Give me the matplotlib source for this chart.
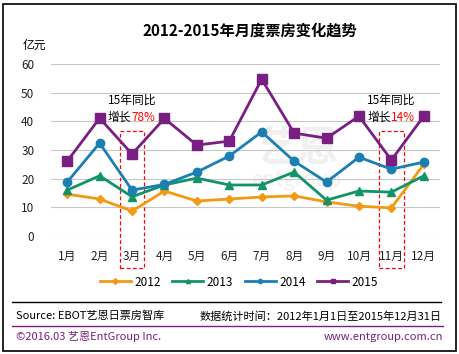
import matplotlib
matplotlib.use('Agg')
import matplotlib.pyplot as plt
from matplotlib.patches import Rectangle
from matplotlib.lines import Line2D

plt.rcParams['font.family'] = ['Noto Sans CJK SC', 'DejaVu Sans']

months = ['1月', '2月', '3月', '4月', '5月', '6月', '7月', '8月', '9月', '10月', '11月', '12月']
v2012 = [14.6, 12.9, 8.7, 15.7, 12.2, 12.9, 13.6, 14.0, 11.9, 10.4, 9.8, 25.0]
v2013 = [16.0, 21.0, 13.7, 17.8, 20.2, 17.8, 17.8, 22.3, 12.5, 15.7, 15.3, 21.0]
v2014 = [18.8, 32.4, 16.0, 18.0, 22.3, 27.9, 36.3, 26.1, 18.8, 27.5, 23.3, 25.8]
v2015 = [26.1, 41.1, 28.6, 41.0, 31.7, 33.1, 54.7, 35.9, 34.1, 41.8, 26.5, 41.8]
yticks = [0, 10, 20, 30, 40, 50, 60]

W, H = 459, 354
fig = plt.figure(figsize=(W / 100, H / 100), dpi=100)

def fx(px):
    return px / W

def fy(py):
    return 1 - py / H

# outer frame
fig.patches.append(Rectangle((fx(3), fy(351)), fx(453), 347 / H, transform=fig.transFigure,
                             fill=False, edgecolor='black', linewidth=1.2))

ax = fig.add_axes([fx(51), fy(236), fx(389), 172 / H])
x = list(range(1, 13))
series = [
    ('2012', v2012, '#F29A12', 'D', 4),
    ('2013', v2013, '#139468', '^', 6),
    ('2014', v2014, '#1B7FB3', 'o', 6),
    ('2015', v2015, '#7A1F82', 's', 6.5),
]
for name, vals, col, mk, ms in series:
    ax.plot(x, vals, color=col, marker=mk, markersize=ms, linewidth=2, label=name)

ax.set_xlim(0.5, 12.5)
ax.set_ylim(0, 60)
ax.set_yticks(yticks)
ax.set_xticks(x)
ax.set_xticklabels(months)
ax.tick_params(axis='both', length=0, labelsize=8.5, colors='#222222')
ax.tick_params(axis='x', pad=10)
ax.tick_params(axis='y', pad=12)
ax.grid(axis='y', color='#c8c8c8', linewidth=0.8)
ax.set_axisbelow(True)
for s in ax.spines.values():
    s.set_visible(False)

# watermark
ax.text(8.1, 30.5, '艺恩', fontsize=30, color='#999999', alpha=0.14, ha='center', va='center',
        fontweight='bold', zorder=0)
ax.text(8.1, 19.5, 'entgroup', fontsize=15, color='#999999', alpha=0.14, ha='center', va='center',
        zorder=0)

# highlight boxes and notes
for m, pct in [(3, '78%'), (11, '14%')]:
    ax.add_patch(Rectangle((m - 0.38, -11.2), 0.76, 47.8, fill=False, edgecolor='red',
                           linestyle=(0, (3, 2)), linewidth=0.9, clip_on=False))
    ax.text(m, 47.5, '15年同比', fontsize=8.5, ha='center', va='center', clip_on=False)
    ax.text(m - 0.02, 41.3, '增长', fontsize=8.5, ha='right', va='center', clip_on=False)
    ax.text(m - 0.02, 41.3, pct, fontsize=8.5, ha='left', va='center', color='red',
            clip_on=False)

fig.text(fx(250), fy(31), '2012-2015年月度票房变化趋势', fontsize=11, fontweight='bold',
         ha='center', va='center')
fig.text(fx(34), fy(45), '亿元', fontsize=8.5, ha='center', va='center')

handles = [Line2D([0], [0], color=c, marker=mk, markersize=3, linewidth=2)
           for _, _, c, mk, _ in series]
fig.legend(handles, [s[0] for s in series], loc='center', bbox_to_anchor=(fx(239), fy(282)),
           ncol=4, frameon=False, fontsize=8.5, handlelength=2.6, columnspacing=1.0,
           handletextpad=0.3)

fig.add_artist(Line2D([fx(12), fx(441)], [fy(302), fy(302)], color='black', linewidth=1))
fig.text(fx(16), fy(316), 'Source: EBOT艺恩日票房智库', fontsize=8, ha='left', va='center')
fig.text(fx(442), fy(316), '数据统计时间：2012年1月1日至2015年12月31日', fontsize=8,
         ha='right', va='center')
fig.add_artist(Line2D([fx(12), fx(443)], [fy(326), fy(326)], color='#7A1F82', linewidth=1))
fig.text(fx(16), fy(337), '©2016.03 艺恩EntGroup Inc.', fontsize=8, ha='left', va='center',
         color='#7A1F82')
fig.text(fx(443), fy(337), 'www.entgroup.com.cn', fontsize=8, ha='right', va='center',
         color='#7A1F82')

fig.savefig('out.png', dpi=100)
